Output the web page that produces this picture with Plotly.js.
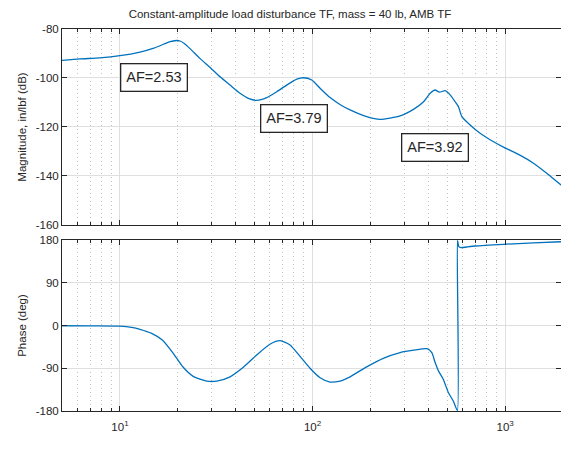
<!DOCTYPE html>
<html>
<head>
<meta charset="utf-8">
<script src="https://cdn.plot.ly/plotly-3.0.1.min.js"></script>
<style>html,body{margin:0;padding:0;background:#fff;}#chart{width:561px;height:459px;}</style>
</head>
<body>
<div id="chart"></div>
<script>
// Magnitude response (Hz, dB)
const magFreq = [5, 6.2, 7.87, 10, 12.7, 15, 17, 18.2, 19.2, 19.8, 20.5, 21.5, 23.1, 26.0, 29.3, 33.1, 37.3, 42.0, 46.4, 51.3, 57.8, 65.2, 73.4, 82.8, 89.6, 99, 109.4, 123.3, 140, 156.6, 191, 224, 285, 334, 377, 408, 433, 456, 488, 518, 550, 572, 596, 658, 741, 835, 980, 1180, 1403, 1650, 1954, 2000];
const magDb = [-92.8, -92.2, -91.8, -90.9, -89.4, -87.8, -86.1, -85.2, -84.8, -84.7, -84.9, -85.8, -88.0, -92.0, -95.6, -99.5, -102.9, -106.2, -108.3, -109.1, -108.0, -105.6, -102.9, -100.5, -99.9, -100.8, -104.2, -108.0, -111.0, -113.0, -115.8, -116.9, -115.5, -112.8, -109.7, -106.2, -104.9, -105.8, -105.2, -106.9, -109.7, -111.7, -115.8, -119.2, -122.6, -125.2, -128.2, -131.3, -134.8, -139.0, -143.7, -144.2];

// Phase response (Hz, deg)
const phFreq = [5, 7, 10, 11.5, 12.7, 14.6, 16.6, 18.7, 21.3, 24.0, 28.2, 31.8, 37.3, 43.7, 51.3, 60.3, 67.9, 76.4, 86.1, 97, 109.4, 123.3, 138.8, 156.6, 191, 233, 285, 334, 393, 416, 433, 451, 477, 507, 538, 565, 565.5, 575, 590, 632, 700, 980, 1400, 2000];
const phDeg = [-0.5, -0.8, -1.5, -4, -8, -16.5, -30.5, -56, -88, -107, -117, -117, -108, -88, -62, -39, -32, -41, -65, -90, -110, -119, -117, -108, -87, -69, -57, -52, -48.8, -57, -78, -96, -113, -141, -159, -179, 179, 166, 163.8, 165.3, 167.4, 171, 174, 176.5];

// Annotation labels
const afLabels = ["AF=2.53", "AF=3.79", "AF=3.92"];
const afFreq = [15.1, 80, 434];
const afDb = [-100, -116.7, -128.2];

const majorX = [10, 100, 1000];
const majorXText = ["10<sup>1</sup>", "10<sup>2</sup>", "10<sup>3</sup>"];
const minorX = [5,6,7,8,9,20,30,40,50,60,70,80,90,200,300,400,500,600,700,800,900,2000];
const magTicks = [-160, -140, -120, -100, -80];
const magTickText = ["-160", "-140", "-120", "-100", "-80"];
const phTicks = [-180, -90, 0, 90, 180];
const phTickText = ["-180", "-90", "0", "90", "180"];

const blue = '#0072BD';
const dark = '#262626';
const fam = 'Liberation Sans, Arial, sans-serif';
const tickFont = {family: fam, size: 11.5, color: dark};

function xax(showLabels, anchor) {
  return {
    type: 'log', range: [Math.log10(5), 3.29], anchor: anchor,
    tickmode: 'array', tickvals: majorX, ticktext: majorXText,
    showticklabels: showLabels, ticks: 'inside', ticklen: 5, tickcolor: dark,
    ticklabelstandoff: 5,
    showline: true, linecolor: dark, linewidth: 1, mirror: 'ticks',
    showgrid: true, gridcolor: '#dfdfdf', gridwidth: 1, zeroline: false,
    tickfont: tickFont,
    minor: {tickmode: 'array', tickvals: minorX, ticks: 'inside', ticklen: 3, tickcolor: dark,
            showgrid: true, griddash: '1px,3px', gridcolor: '#c4c4c4', gridwidth: 1}
  };
}

function yax(domain, range, vals, text, title) {
  return {domain: domain, range: range, tickmode: 'array', tickvals: vals, ticktext: text,
          ticks: 'inside', ticklen: 5, tickcolor: dark, showline: true, linecolor: dark, mirror: 'ticks',
          showgrid: true, gridcolor: '#dfdfdf', zeroline: false, tickfont: tickFont,
          title: {text: title, standoff: 6, font: {family: fam, size: 11.5, color: dark}}};
}

const traces = [
  {x: magFreq, y: magDb, type: 'scatter', mode: 'lines', xaxis: 'x', yaxis: 'y',
   line: {color: blue, width: 1.3, shape: 'spline', smoothing: 0.6}, hoverinfo: 'skip'},
  {x: phFreq, y: phDeg, type: 'scatter', mode: 'lines', xaxis: 'x2', yaxis: 'y2',
   line: {color: blue, width: 1.3, shape: 'spline', smoothing: 0.6}, hoverinfo: 'skip'}
];

const annotations = afLabels.map((t, i) => ({
  text: t, x: Math.log10(afFreq[i]), y: afDb[i], xref: 'x', yref: 'y',
  showarrow: false, font: {family: fam, size: 14.5, color: dark},
  bgcolor: '#ffffff', bordercolor: dark, borderwidth: 1.3, borderpad: 5
}));
annotations.push({
  text: 'Frequency  (Hz)', xref: 'container', yref: 'container', x: 290/561, y: 1 - 447/459,
  showarrow: false, xanchor: 'center', yanchor: 'middle',
  font: {family: fam, size: 12, color: dark}
});

const layout = {
  width: 561, height: 459,
  margin: {l: 62, r: 0, t: 29, b: 48},
  paper_bgcolor: '#ffffff', plot_bgcolor: '#ffffff',
  showlegend: false,
  title: {text: 'Constant-amplitude load disturbance TF, mass = 40 lb, AMB TF',
          xref: 'container', yref: 'container', x: 290/561, y: 1 - 14/459,
          xanchor: 'center', yanchor: 'middle',
          font: {family: fam, size: 11.5, color: dark}},
  xaxis: xax(false, 'y'),
  xaxis2: xax(true, 'y2'),
  yaxis: yax([0.487, 1], [-160, -80], magTicks, magTickText, 'Magnitude, in/lbf (dB)'),
  yaxis2: yax([0, 0.4476], [-180, 180], phTicks, phTickText, 'Phase (deg)'),
  annotations: annotations
};

Plotly.newPlot('chart', traces, layout, {staticPlot: true, displayModeBar: false});
</script>
</body>
</html>
